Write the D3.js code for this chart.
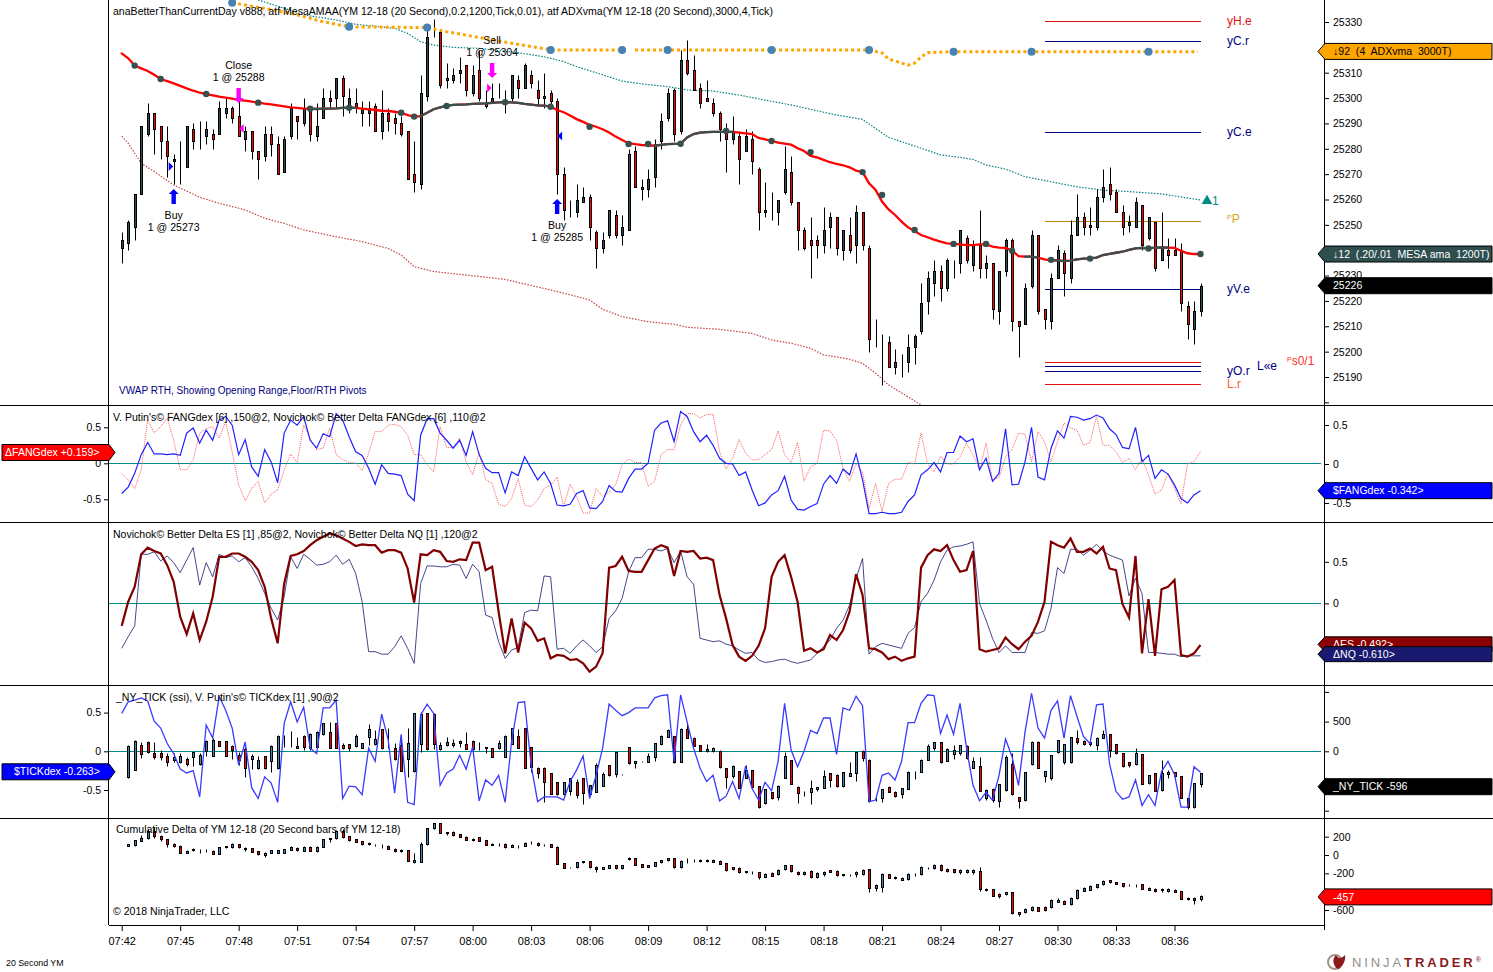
<!DOCTYPE html>
<html>
<head>
<meta charset="utf-8">
<title>20 Second YM</title>
<script src="https://cdn.jsdelivr.net/npm/d3@7"></script>
<style>
  html, body { margin: 0; background: #fff; }
  svg { display: block; font-family: "Liberation Sans", Arial, sans-serif; }
  text { fill: #000; }
  .axis text { font-size: 10.5px; }
  .axis line { stroke: #000; }
  .time text { font-size: 11px; }
</style>
</head>
<body>
<svg id="chart" width="1493" height="972"></svg>
<script>
// DATA
const timeLabels = ["07:42","07:45","07:48","07:51","07:54","07:57","08:00","08:03","08:06","08:09","08:12","08:15","08:18","08:21","08:24","08:27","08:30","08:33","08:36"];

// YM 12-18 20 second bars: high, low, open, close
const priceBars = [
[25247,25235,25241,25244],[25252,25240,25243,25251],[25262,25244,25249,25262],[25289,25262,25262,25289],[25298,25285,25286,25294],
[25294,25278,25294,25288],[25289,25276,25289,25283],[25289,25269,25283,25277],[25278,25266,25275,25276],[25283,25266,25274,25274],
[25289,25273,25273,25289],[25290,25280,25288,25283],[25291,25280,25286,25286],[25291,25282,25285,25288],[25288,25280,25286,25284],
[25299,25286,25286,25296],[25300,25292,25294,25296],[25297,25290,25296,25292],[25299,25285,25293,25285],[25289,25279,25284,25287],
[25287,25276,25287,25279],[25279,25268,25279,25276],[25289,25275,25277,25286],[25289,25277,25286,25282],[25285,25270,25282,25270],
[25285,25271,25271,25284],[25298,25284,25285,25296],[25293,25284,25293,25291],[25300,25289,25290,25296],[25296,25283,25296,25286],
[25298,25283,25285,25289],[25304,25292,25292,25300],[25303,25296,25300,25299],[25308,25296,25300,25308],[25309,25293,25308,25301],
[25304,25294,25297,25300],[25304,25294,25298,25296],[25299,25289,25294,25296],[25299,25289,25294,25296],[25298,25287,25297,25287],
[25303,25284,25287,25294],[25296,25287,25294,25291],[25294,25286,25292,25290],[25293,25285,25290,25286],[25287,25268,25287,25268],
[25283,25263,25270,25267],[25309,25264,25266,25302],[25329,25299,25301,25324],[25331,25324,25324,25324],[25327,25304,25326,25305],
[25314,25304,25307,25308],[25312,25306,25307,25309],[25316,25306,25310,25311],[25313,25301,25313,25303],[25313,25301,25302,25309],
[25319,25299,25311,25300],[25303,25296,25297,25298],[25306,25299,25299,25300],[25306,25300,25300,25300],[25303,25294,25299,25299],
[25309,25299,25300,25309],[25309,25300,25307,25304],[25314,25304,25304,25313],[25311,25304,25309,25306],[25307,25297,25303,25300],
[25310,25296,25300,25301],[25303,25296,25302,25299],[25300,25262,25299,25270],[25273,25252,25270,25256],[25260,25253,25255,25255],
[25266,25253,25255,25260],[25265,25259,25259,25261],[25262,25244,25261,25249],[25248,25233,25247,25241],[25247,25239,25241,25244],
[25256,25245,25246,25256],[25256,25245,25254,25246],[25254,25242,25246,25249],[25280,25248,25248,25278],[25281,25265,25279,25265],
[25268,25260,25264,25265],[25272,25261,25264,25268],[25284,25265,25269,25282],[25294,25280,25283,25291],[25304,25291,25292,25302],
[25304,25283,25303,25286],[25319,25286,25287,25315],[25323,25309,25315,25310],[25317,25303,25311,25303],[25306,25296,25304,25298],
[25307,25299,25300,25299],[25300,25293,25298,25294],[25295,25283,25294,25288],[25290,25271,25288,25284],[25293,25282,25284,25287],
[25287,25266,25285,25276],[25288,25279,25279,25285],[25287,25270,25284,25275],[25273,25248,25272,25255],[25267,25253,25255,25256],
[25263,25252,25256,25256],[25260,25250,25255,25260],[25281,25262,25263,25272],[25277,25258,25271,25259],[25259,25240,25259,25248],
[25249,25240,25248,25241],[25253,25229,25244,25242],[25246,25237,25244,25242],[25257,25239,25242,25248],[25255,25241,25249,25253],
[25253,25238,25253,25241],[25248,25236,25240,25248],[25253,25239,25246,25240],[25258,25235,25242,25255],[25255,25240,25255,25242],
[25242,25200,25241,25205],[25213,25202,25205,25205],[25207,25187,25205,25205],[25206,25194,25204,25194],[25201,25191,25194,25196],
[25199,25190,25196,25196],[25207,25192,25196,25202],[25207,25195,25202,25206],[25227,25207,25208,25219],[25232,25215,25220,25229],
[25236,25222,25227,25232],[25234,25220,25232,25225],[25237,25224,25225,25236],[25236,25229,25234,25234],[25248,25231,25235,25248],
[25246,25235,25245,25236],[25244,25232,25234,25242],[25256,25229,25242,25233],[25238,25229,25233,25235],[25235,25213,25235,25217],
[25232,25211,25216,25232],[25245,25230,25232,25244],[25245,25208,25244,25212],[25212,25198,25212,25210],[25227,25211,25211,25225],
[25248,25225,25226,25246],[25246,25215,25246,25216],[25217,25209,25217,25213],[25231,25209,25212,25229],[25242,25229,25229,25240],
[25240,25222,25239,25231],[25252,25227,25229,25246],[25262,25246,25246,25253],[25255,25246,25253,25249],[25257,25246,25250,25249],
[25264,25248,25249,25261],[25272,25259,25261,25265],[25273,25260,25266,25262],[25264,25255,25263,25255],[25258,25246,25255,25249],
[25254,25247,25250,25251],[25261,25249,25249,25259],[25258,25240,25258,25242],[25253,25244,25245,25253],[25251,25232,25251,25233],
[25255,25236,25236,25241],[25245,25233,25240,25238],[25245,25238,25240,25238],[25243,25216,25240,25219],[25220,25205,25218,25211],
[25220,25203,25209,25216],[25227,25214,25216,25226]
];

const mesaValues = [
25317.6,25315.7,25312.8,25311.7,25310.7,25309.2,25307.5,25306.7,25305.8,25304.8,
25303.8,25302.9,25302.1,25301.6,25301.1,25300.6,25300.2,25299.8,25299.2,25299.0,
25298.6,25298.2,25297.8,25297.5,25297.1,25296.7,25296.3,25296.1,25295.8,25295.8,
25295.7,25295.8,25295.8,25295.9,25296.1,25296.2,25296.1,25295.8,25295.6,25295.3,
25295.0,25294.9,25294.6,25294.2,25293.3,25292.7,25292.9,25294.2,25295.6,25296.3,
25296.9,25297.3,25297.4,25297.5,25297.7,25297.8,25297.9,25298.1,25298.3,25298.4,
25298.3,25298.1,25297.7,25297.4,25297.1,25297.0,25296.6,25295.3,25294.4,25293.1,
25291.7,25290.6,25289.4,25288.7,25287.7,25286.4,25284.8,25283.5,25282.2,25281.8,
25281.5,25281.4,25281.2,25281.5,25281.8,25281.9,25282.0,25284.5,25285.8,25286.4,
25286.6,25286.7,25286.7,25286.7,25286.7,25286.4,25286.1,25285.8,25284.3,25283.7,
25283.1,25282.4,25282.0,25281.6,25280.2,25279.1,25277.2,25276.6,25275.6,25274.7,
25274.0,25273.5,25272.7,25271.4,25270.8,25266.4,25263.8,25259.2,25256.1,25253.9,
25251.3,25249.0,25247.6,25246.0,25245.1,25244.2,25243.4,25242.7,25242.5,25242.3,
25242.0,25242.0,25242.3,25242.3,25241.4,25241.0,25240.9,25239.8,25237.7,25237.5,
25237.5,25237.1,25236.4,25236.0,25236.0,25235.7,25235.9,25236.4,25236.7,25236.8,
25237.1,25238.1,25238.6,25239.0,25239.4,25240.1,25240.7,25240.9,25240.7,25241.0,
25241.1,25241.0,25240.9,25239.8,25238.8,25238.5,25238.5
];
// bar ranges where the MESA line turns slate instead of red
const mesaDarkRuns = [[29,36],[46,66],[82,94],[139,141],[143,161]];
const mesaDotBars = [2,6,13,21,29,35,43,45,50,59,66,72,78,81,86,93,100,106,114,117,122,128,133,137,143,149,158,166];
const mesaDotValues = [25312.8,25307.5,25301.6,25298.2,25295.8,25296.2,25294.2,25292.7,25296.9,25298.4,25296.6,25288.7,25281.9,25281.9,25282.0,25287.0,25283.1,25278.7,25270.8,25261.8,25248.0,25242.5,25242.5,25239.8,25236.2,25236.7,25240.7,25238.5];

const adxBars = [17,26,31,35,47,50,58,66,77,null,79,115,117,118,120,121,122,123,124,128,165.6];
const adxValues = [25337.6,25333.5,25330.1,25328.1,25327.8,25326.2,25322.5,25319.0,25319.0,null,25319.0,25319.0,25317.8,25315.4,25313.8,25313.0,25313.8,25316.2,25317.9,25318.3,25318.3];
const adxDotBars = [17,35,47,66,77,84,100,115,128,140,158];
const adxDotValues = [25337.6,25328.1,25327.8,25319.0,25319.0,25319.0,25319.0,25319.0,25318.3,25318.3,25318.3];

const upperBandBars = [21,25,28,33,36,42,44,46,48,51,55,57,61,65,68,70,73,77,80,84,87,91,95,99,103,107,110,114,116,118,122,126,129,131,133,136,139,143,147,151,155,160,166];
const upperBandValues = [25338.7,25335.4,25332.8,25330.8,25329.1,25327.5,25325.5,25322.2,25320.9,25320,25319.6,25319,25317.9,25316.3,25314.4,25312.4,25310,25306.7,25305.6,25304.5,25303.2,25302.8,25301.2,25299.2,25297.3,25295,25293.3,25291.6,25288,25284.5,25281.1,25277.6,25276.6,25275.8,25273.6,25272,25269,25267,25265,25263.7,25263.1,25262.2,25259.8];
const lowerBandBars = [0,1,3,5,8,12,15,19,22,25,28,33,37,41,43,45,48,53,59,67,72,74,77,81,85,87,92,97,100,103,106,108,112,114,116,118,123];
const lowerBandValues = [25285,25282.2,25274.3,25271,25265.7,25260.9,25258.5,25255.9,25252.6,25250.6,25248,25245.3,25243.4,25240.7,25238.1,25233.5,25231.6,25230.2,25228.5,25223.7,25220.4,25216.7,25213.8,25211.8,25210.8,25209.6,25208.8,25207.2,25204.6,25203.3,25201.3,25198.7,25197,25195.4,25191.5,25186.9,25179];

// pivot levels
const levelValues = [25330.3,25322.4,25286.5,25251.4,25224.6,25195.8,25194.2,25192.3,25187.1];
const levelColors = ["#e01010","#000080","#000080","#b8860b","#000080","#e01010","#000080","#000080","#e01010"];

// executions
const tradeBars = [8,18,57,67];
const tradePrices = [25273,25288,25304,25285];
const tradeNames = ["Buy","Close","Sell","Buy"];
const tradeColors = ["#0000ff","#ff00ff","#ff00ff","#0000ff"];
const tradeArrowTips = [25264.1,25298.1,25307.9,25260.2];

const fangBlue = [
-.42,-.33,-.14,.12,.29,.13,.13,.12,.13,.11,
.42,.49,.28,.46,.32,.60,.65,.53,.12,.33,
-.05,-.18,.19,.02,-.27,.42,.60,.53,.65,.32,
.21,.41,.37,.69,.60,.37,.16,.11,-.07,-.29,
-.02,-.14,-.15,-.17,-.43,-.52,.39,.62,.62,.42,
.32,.21,.32,.11,.44,.12,-.07,-.13,-.13,-.41,
-.12,-.17,.09,-.07,-.23,-.12,-.28,-.58,-.59,-.57,
-.42,-.38,-.62,-.63,-.53,-.31,-.39,-.40,-.21,-.08,
-.08,0,.46,.56,.59,.30,.72,.65,.44,.30,
.39,.25,.07,0,-.01,-.17,-.12,-.37,-.59,-.55,
-.44,-.38,-.18,-.51,-.64,-.65,-.60,-.56,-.29,-.17,
-.28,-.08,-.16,.13,-.23,-.70,-.70,-.68,-.70,-.70,
-.68,-.53,-.44,-.16,-.09,.01,-.12,.15,.15,.38,
.30,.34,-.09,.07,-.25,-.14,.48,-.30,-.29,.02,
.50,-.19,-.23,.21,.45,.35,.65,.64,.60,.62,
.67,.63,.48,.40,.22,.20,.50,.02,.11,-.21,
-.09,-.15,-.30,-.49,-.55,-.44,-.38
];
const fangDelta = [
-.14,-.23,-.35,-.09,.60,.42,.51,.63,.32,-.09,
-.09,.05,.42,.48,.51,.35,.58,.16,-.30,-.52,
-.35,-.25,-.55,-.43,-.37,-.09,.13,.01,.53,.35,
.19,.21,.49,.12,.05,.01,0,-.10,.14,.44,
.44,.53,.54,.51,.39,.12,.12,-.02,-.12,.51,
.22,.22,.35,.02,-.16,.15,-.23,-.28,-.57,-.60,
-.49,-.21,-.58,-.60,-.51,-.35,-.30,-.19,-.60,-.29,
-.46,-.69,-.69,-.35,-.46,-.40,-.30,-.02,.06,.01,
.01,-.32,-.25,.12,.19,.19,.53,.69,.69,.63,
.68,.68,.16,-.08,.07,.33,.14,.05,.05,.12,
.19,.45,.12,.01,.29,-.25,-.05,0,.46,.45,
.32,-.07,-.25,-.01,-.12,-.63,-.28,-.67,-.28,-.22,
-.22,.01,-.01,.42,0,-.12,.10,-.01,-.01,.09,
.28,.12,-.09,.28,-.23,-.20,.09,.19,.42,.40,
.02,.44,.30,.02,.30,.56,.49,.46,.25,.29,
.65,.25,.25,.16,.01,.07,-.09,.07,-.16,-.43,
-.37,-.14,-.35,-.56,-.01,.02,.16
];

const deltaES = [
-.27,.02,.20,.59,.67,.63,.60,.46,.26,-.16,
-.37,-.12,-.44,-.22,.08,.56,.56,.60,.60,.56,
.50,.40,.20,-.18,-.48,.24,.57,.59,.63,.70,
.76,.80,.84,.82,.78,.74,.69,.71,.70,.70,
.61,.64,.64,.61,.42,.01,.59,.58,.64,.62,
.51,.50,.53,.52,.73,.73,.40,.44,-.10,-.60,
-.18,-.59,-.23,-.30,-.45,-.42,-.66,-.62,-.63,-.68,
-.67,-.72,-.82,-.76,-.60,.43,.45,.56,.39,.38,
.38,.52,.66,.70,.67,.33,.63,.62,.63,.54,
.55,.52,.10,-.18,-.50,-.64,-.69,-.63,-.51,-.30,
.32,.50,.58,.32,.02,-.57,-.54,-.59,-.55,-.38,
-.44,-.32,-.10,.35,.10,-.54,-.55,-.59,-.67,-.64,
-.69,-.66,-.64,.43,.58,.65,.63,.70,.52,.38,
.40,.63,-.55,-.58,-.56,-.54,-.41,-.49,-.55,-.46,
-.39,-.22,.02,.74,.70,.67,.78,.62,.62,.66,
.60,.68,.42,.40,-.01,-.17,.57,-.60,.05,-.63,
.17,.20,.28,-.62,-.64,-.60,-.50
];
const deltaNQ = [
-.54,-.40,-.27,.59,.59,.62,.51,.57,.49,.37,
.52,.67,.22,.49,.32,.59,.55,.57,.50,.55,
.44,.30,.12,-.06,-.20,.08,.56,.42,.59,.53,
.46,.47,.50,.58,.47,.53,.36,.02,-.58,-.58,
-.61,-.61,-.52,-.39,-.54,-.72,.24,.45,.45,.44,
.44,.47,.46,.30,.47,.38,-.14,-.17,-.46,-.66,
-.56,-.53,-.11,-.08,-.09,.33,.32,-.55,-.54,-.60,
-.51,-.44,-.51,-.59,-.52,-.18,-.09,.06,.38,.55,
.55,.65,.65,.63,.66,.49,.63,.32,.23,-.42,
-.44,-.46,-.45,-.49,-.51,-.56,-.60,-.59,-.68,-.71,
-.70,-.68,-.67,-.70,-.72,-.70,-.68,-.60,-.52,-.44,
-.30,-.20,-.02,.30,.54,-.61,-.52,-.48,-.50,-.52,
-.54,-.36,-.29,.02,.12,.28,.50,.64,.68,.69,
.71,.74,0,-.20,-.42,-.59,-.51,-.59,-.59,-.59,
-.35,-.36,-.33,-.06,.43,.36,.65,.65,.58,.64,
.71,.63,.58,.55,.52,.09,.30,.12,-.59,-.59,
-.60,-.61,-.61,-.64,-.63,-.63,-.63
];

const tickDex = [
.49,.64,.66,.69,.65,.39,.30,.10,-.03,-.23,
-.28,-.25,-.59,.34,.17,.71,.53,.30,-.18,.12,
-.47,-.61,-.33,-.41,-.66,.36,.64,.38,.57,.04,
-.03,.56,.56,.66,-.61,-.45,-.46,-.56,.04,-.13,
.48,.15,-.54,.22,-.66,-.69,.47,.61,.49,-.44,
-.28,-.23,-.05,-.23,.06,-.64,-.37,-.44,-.31,-.66,
.13,.63,.64,-.18,-.65,-.59,-.59,-.59,-.63,-.39,
-.24,-.06,-.61,-.31,.04,.61,.53,.46,.50,.56,
.56,.56,.69,.72,.73,-.13,.73,.38,.04,-.22,
-.39,-.31,-.64,-.58,-.39,-.61,-.19,-.48,-.63,-.40,
-.51,-.13,.62,.02,-.20,0,.27,.23,.43,.43,
-.04,.56,.53,.71,.59,-.65,-.63,-.31,-.28,-.37,
-.13,.37,.37,.62,.73,.72,.23,.47,.22,.62,
.04,-.44,-.64,-.53,-.63,-.31,.16,-.07,-.44,.25,
.75,.30,.17,.53,.65,.17,.72,.45,.19,.10,
.60,.61,-.16,-.52,-.62,-.59,-.37,-.70,-.56,-.70,
-.26,-.13,-.30,-.72,-.72,-.20,-.27
];

// _NY_TICK bars from bar 1 on: high, low, open, close
const tickBars = [
[107,-444,-438,96],[185,-315,-315,174],[163,-107,107,-39],[174,-34,163,-6],[152,-129,-34,-90],[22,-146,-22,-101],[-34,-247,-79,-185],[-34,-174,-146,-90],[-34,-191,-174,-79],[-90,-242,-135,-219],
[-6,-247,-90,-17],[-34,-230,-219,-62],[191,-73,6,174],[219,-73,-73,191],[174,90,174,96],[174,-73,174,-73],[107,-129,96,22],[-6,-230,-62,-146],[79,-427,34,-287],[-45,-303,-129,-79],
[-79,-298,-287,-146],[-73,-298,-79,-287],[107,-343,-163,96],[275,-298,-287,264],[275,79,96,96],[343,79,264,264],[247,51,96,51],[275,22,264,79],[303,22,51,292],[343,79,79,332],
[483,275,287,472],[489,51,332,51],[483,51,472,51],[135,39,107,51],[118,11,118,51],[287,79,96,264],[135,51,62,135],[455,107,247,377],[360,107,118,202],[377,39,371,51],
[388,51,202,202],[135,-146,51,-129],[174,-332,107,-332],[388,-427,-129,135],[641,-354,-332,641],[658,-6,124,624],[652,22,641,39],[641,39,624,118],[163,22,34,107],[247,96,107,152],
[208,79,107,135],[191,79,135,174],[332,39,118,39],[191,-79,180,34],[152,22,51,51],[79,-34,51,67],[62,-90,51,-90],[191,39,51,135],[275,-90,-90,264],[399,118,129,388],
[377,51,264,62],[388,-275,388,-275],[79,-354,67,-270],[-270,-455,-275,-371],[-270,-849,-275,-523],[-371,-725,-371,-725],[-511,-736,-523,-725],[-511,-736,-725,-523],[-444,-736,-663,-455],[-466,-781,-523,-736],
[-455,-894,-455,-708],[-568,-747,-725,-568],[-202,-691,-691,-230],[-354,-584,-579,-388],[-230,-410,-236,-399],[-17,-427,-388,-17],[-388,-399,-388,-388],[79,-219,67,-191],[-163,-275,-197,-163],[-163,-185,-174,-174],
[-34,-185,-174,-73],[135,-157,-90,135],[275,107,118,264],[371,236,247,360],[264,-202,258,-185],[388,-174,-174,377],[472,219,377,230],[247,90,219,96],[107,11,107,11],[118,-6,11,39],
[79,-6,11,62],[22,-275,11,-259],[-275,-613,-275,-433],[-230,-444,-421,-242],[-332,-624,-332,-613],[-230,-455,-444,-320],[-315,-613,-320,-596],[-584,-961,-584,-933],[-635,-888,-877,-635],[-680,-804,-691,-781],
[-568,-821,-764,-579],[-6,-444,-444,-73],[-146,-545,-152,-545],[-590,-866,-596,-697],[-669,-747,-680,-680],[-483,-894,-680,-613],[-596,-669,-641,-607],[-315,-624,-624,-416],[-371,-607,-371,-483],[-388,-596,-399,-584],
[-354,-596,-584,-354],[-174,-410,-410,-365],[-6,-500,-371,-11],[22,-163,11,-118],[-129,-860,-140,-832],[-764,-837,-821,-821],[-635,-860,-792,-635],[-584,-691,-601,-680],[-669,-764,-680,-759],[-613,-781,-725,-624],
[-332,-635,-635,-354],[-332,-466,-343,-343],[-129,-354,-343,-140],[118,-140,-140,96],[163,22,51,152],[163,-202,152,-185],[51,-163,-163,39],[107,-129,-51,22],[107,-62,-34,101],[107,-129,96,-107],
[-90,-275,-275,-163],[-90,-669,-247,-669],[-635,-821,-792,-646],[-624,-860,-635,-821],[-545,-933,-832,-545],[-62,-669,-658,-90],[-34,-736,-214,-725],[-764,-950,-776,-837],[-354,-837,-826,-354],[174,-230,-219,163],
[174,-287,163,-287],[-332,-511,-410,-332],[-62,-483,-444,-62],[191,-34,-17,191],[118,-219,-185,118],[247,-202,-174,242],[360,118,230,152],[191,107,174,129],[163,96,152,118],[247,22,107,230],
[360,219,230,287],[287,-90,287,22],[118,-51,118,-34],[-34,-264,-34,-253],[-185,-259,-185,-230],[62,-230,-219,-22],[-51,-556,-51,-551],[-399,-556,-540,-399],[-371,-669,-371,-663],[-146,-669,-658,-371],
[-315,-455,-388,-354],[-354,-433,-354,-421],[-410,-792,-410,-781],[-792,-972,-792,-933],[-540,-961,-933,-540],[-371,-596,-556,-371]
];

// cumulative delta bars from bar 1 on: high, low, open, close
const cumDeltaBars = [
[116,95,102,116],[164,95,109,160],[218,156,156,182],[284,175,182,265],[309,182,265,211],[218,156,211,171],[175,91,171,124],[127,84,124,98],[109,25,102,25],[55,25,25,47],
[73,47,55,65],[65,25,62,62],[69,36,62,62],[55,15,47,15],[87,15,15,84],[102,73,84,95],[127,73,87,116],[120,80,116,84],[84,47,80,65],[80,36,73,36],
[47,0,40,7],[36,-18,0,25],[55,18,25,51],[55,18,25,51],[65,25,25,62],[95,51,55,84],[84,47,80,51],[98,44,47,91],[95,47,91,47],[98,36,47,91],
[175,87,91,171],[189,145,171,182],[273,175,182,262],[284,189,265,196],[211,156,204,164],[175,138,171,145],[156,109,149,120],[138,109,116,131],[124,102,113,113],[116,73,102,102],
[109,65,102,69],[73,36,69,44],[62,36,44,51],[55,-62,51,-62],[18,-84,-73,-58],[145,-80,-73,116],[298,109,116,291],[349,284,291,345],[345,236,345,236],[255,218,251,236],
[262,211,251,222],[229,196,225,200],[207,164,200,167],[189,153,164,178],[196,153,193,156],[164,109,160,113],[127,105,113,124],[127,102,120,120],[127,80,120,91],[116,87,91,113],
[109,76,102,102],[145,98,102,135],[153,124,135,135],[142,98,135,113],[124,95,113,113],[120,87,116,91],[95,-98,91,-95],[-84,-142,-91,-138],[-131,-142,-135,-135],[-73,-138,-131,-80],
[-62,-87,-80,-65],[-62,-138,-69,-127],[-120,-182,-127,-153],[-127,-153,-153,-131],[-109,-145,-138,-113],[-109,-153,-113,-142],[-109,-153,-138,-113],[-25,-51,-47,-33],[-33,-109,-36,-105],[-98,-131,-102,-127],
[-109,-131,-127,-113],[-73,-120,-116,-80],[-51,-84,-80,-58],[-29,-65,-58,-36],[-29,-138,-36,-127],[-58,-138,-127,-62],[-36,-91,-62,-62],[-44,-73,-58,-58],[-47,-73,-55,-65],[-44,-73,-55,-65],
[-47,-80,-76,-58],[-58,-102,-65,-95],[-84,-171,-91,-160],[-131,-167,-135,-156],[-131,-193,-138,-185],[-171,-193,-178,-189],[-175,-204,-193,-193],[-182,-262,-189,-244],[-196,-244,-236,-211],[-189,-233,-196,-225],
[-153,-218,-207,-160],[-109,-164,-156,-113],[-109,-185,-113,-178],[-175,-218,-185,-207],[-175,-218,-204,-182],[-164,-255,-171,-236],[-189,-247,-236,-196],[-175,-225,-211,-182],[-164,-189,-167,-182],[-167,-225,-175,-222],
[-207,-225,-222,-211],[-204,-229,-215,-215],[-171,-236,-211,-182],[-153,-218,-204,-160],[-153,-400,-156,-356],[-320,-389,-356,-331],[-200,-400,-345,-211],[-204,-255,-211,-247],[-233,-262,-240,-255],[-240,-276,-269,-251],
[-200,-273,-265,-207],[-200,-225,-211,-211],[-120,-218,-211,-127],[-127,-156,-135,-135],[-98,-153,-138,-109],[-102,-175,-109,-167],[-145,-189,-153,-171],[-153,-200,-156,-185],[-156,-204,-185,-164],[-156,-200,-185,-167],
[-153,-207,-189,-164],[-131,-389,-175,-375],[-360,-393,-382,-367],[-371,-447,-375,-444],[-418,-465,-425,-444],[-400,-436,-429,-407],[-404,-644,-407,-636],[-618,-662,-625,-640],[-582,-636,-625,-589],[-556,-607,-596,-564],
[-564,-614,-571,-607],[-556,-611,-564,-600],[-484,-574,-567,-495],[-473,-509,-509,-491],[-491,-538,-498,-531],[-458,-545,-531,-465],[-371,-480,-473,-385],[-353,-393,-389,-364],[-331,-385,-378,-338],[-313,-356,-345,-320],
[-273,-327,-320,-280],[-273,-309,-276,-298],[-291,-320,-295,-313],[-305,-349,-309,-335],[-320,-338,-331,-331],[-313,-349,-331,-324],[-313,-371,-316,-367],[-353,-385,-378,-360],[-364,-400,-375,-389],[-356,-400,-385,-367],
[-364,-400,-389,-371],[-371,-407,-382,-400],[-393,-480,-396,-476],[-455,-495,-480,-465],[-455,-535,-491,-473],[-436,-498,-480,-451]
];

// SCALES
const W = 1493, left = 109, right = 1325;
const panels = { price: [0, 405], fang: [405, 522], delta: [522, 685], tick: [685, 817.5], cum: [817.5, 925] };

const x = d3.scaleLinear().domain([0, 166]).range([121.7, 1200.5]);
const yPrice = d3.scaleLinear().domain([25330, 25190]).range([22, 377]);
const yFang = d3.scaleLinear().domain([0.5, -0.5]).range([427.3, 499.3]);
const yFangRight = d3.scaleLinear().domain([0.5, -0.5]).range([425, 503]);
const yDelta = d3.scaleLinear().domain([0.5, -0.5]).range([561.8, 645]);
const yDex = d3.scaleLinear().domain([0.5, -0.5]).range([712.6, 790]);
const yTick = d3.scaleLinear().domain([500, -500]).range([721.6, 781]);
const yCum = d3.scaleLinear().domain([200, -600]).range([836.7, 910]);

const svg = d3.select("#chart");
const defs = svg.append("defs");
Object.entries(panels).forEach(([name, [y0, y1]]) => {
  defs.append("clipPath").attr("id", "clip-" + name)
    .append("rect").attr("x", left).attr("y", y0).attr("width", right - left).attr("height", y1 - y0);
});
const layer = (name) => svg.append("g").attr("clip-path", `url(#clip-${name})`);
const crisp = (v) => Math.round(v) + 0.5;

// HELPERS
function drawSeries(g, bars, values, yScale, opts) {
  const rows = bars.map((b, k) => [b, values[k]]);
  const line = d3.line().defined((d) => d[0] !== null).x((d) => x(d[0])).y((d) => yScale(d[1]));
  g.append("path").attr("d", line(rows)).attr("fill", "none")
    .attr("stroke", opts.color).attr("stroke-width", opts.width || 1)
    .attr("stroke-dasharray", opts.dash || null)
    .attr("stroke-linecap", opts.cap || "butt")
    .attr("stroke-opacity", opts.opacity || 1);
}

function drawCandles(g, rows, start, yScale, upColor, downColor) {
  const bars = g.selectAll("g.bar").data(rows).join("g").attr("class", "bar")
    .attr("transform", (d, k) => `translate(${crisp(x(k + start))},0)`);
  bars.append("line").attr("y1", (d) => crisp(yScale(d[0]))).attr("y2", (d) => crisp(yScale(d[1])))
    .attr("stroke", "#000");
  bars.append("rect").attr("x", -1)
    .attr("width", 2)
    .attr("y", (d) => crisp(yScale(Math.max(d[2], d[3]))))
    .attr("height", (d) => crisp(yScale(Math.min(d[2], d[3]))) - crisp(yScale(Math.max(d[2], d[3]))))
    .attr("fill", (d) => (d[3] >= d[2] ? upColor : downColor))
    .attr("stroke", "#000");
}

function zeroLine(y) {
  svg.append("line").attr("x1", left).attr("x2", 1321).attr("y1", y).attr("y2", y)
    .attr("stroke", "#008b8b");
}

function drawAxis(axis, xPos) {
  const g = svg.append("g").attr("class", "axis").attr("transform", `translate(${xPos},0)`).call(axis);
  g.select(".domain").remove();
  return g;
}

function label(text, px, py, size, color, anchor) {
  return svg.append("text").attr("x", px).attr("y", py).attr("dy", "0.35em")
    .attr("font-size", size).attr("text-anchor", anchor || "start")
    .style("fill", color || "#000").text(text);
}

// the pivot captions with a small raised P in front
function pivotLabel(rest, px, py, color) {
  const t = svg.append("text").attr("x", px).attr("y", py + 4).attr("font-size", 12).style("fill", color);
  t.append("tspan").attr("font-size", 7).attr("dy", -3).style("fill", color).text("P");
  t.append("tspan").attr("dy", 3).style("fill", color).text(rest);
}

// flag labels: tip points at the axis, box runs to the chart edge
function flagRight(cy, h, fill, textColor, text, stroke) {
  const t = cy - h / 2, b = cy + h / 2;
  svg.append("path").attr("d", `M1318,${cy}L1325,${t}H1492V${b}H1325Z`)
    .attr("fill", fill).attr("stroke", stroke || "#000");
  label(text, 1333, cy, 10.55, textColor).attr("xml:space", "preserve");
}
function flagLeft(cy, h, fill, text, px) {
  const t = cy - h / 2, b = cy + h / 2;
  svg.append("path").attr("d", `M2,${t}H109L115,${cy}L109,${b}H2Z`)
    .attr("fill", fill).attr("stroke", "#000");
  label(text, px, cy, 10.55, "#fff");
}

// PRICE PANEL
const priceLayer = layer("price");
levelValues.forEach((v, k) => {
  const y = crisp(yPrice(v));
  priceLayer.append("line").attr("x1", 1045).attr("x2", 1201).attr("y1", y).attr("y2", y)
    .attr("stroke", levelColors[k]);
});
drawSeries(priceLayer, upperBandBars, upperBandValues, yPrice, { color: "#007f7f", dash: "1.5,1.5", width: 1.2 });
drawSeries(priceLayer, lowerBandBars, lowerBandValues, yPrice, { color: "#c84040", dash: "1.5,1.5", width: 1.2 });
drawCandles(priceLayer.append("g"), priceBars, 0, yPrice, "#2f4f4f", "#ff0000");

const allBars = d3.range(mesaValues.length);
drawSeries(priceLayer, allBars, mesaValues, yPrice, { color: "#ff0000", width: 2.3, cap: "round" });
mesaDarkRuns.forEach(([a, b]) => {
  const run = d3.range(a, b + 1);
  drawSeries(priceLayer, run, run.map((i) => mesaValues[i]), yPrice, { color: "#36504f", width: 2.3, cap: "round" });
});
priceLayer.selectAll("circle.mesa").data(mesaDotBars).join("circle").attr("class", "mesa")
  .attr("cx", (d) => x(d)).attr("cy", (d, k) => yPrice(mesaDotValues[k])).attr("r", 3.2).attr("fill", "#36504f");

drawSeries(priceLayer, adxBars, adxValues, yPrice, { color: "#ffa500", width: 3, dash: "3,3" });
priceLayer.selectAll("circle.adx").data(adxDotBars).join("circle").attr("class", "adx")
  .attr("cx", (d) => x(d)).attr("cy", (d, k) => yPrice(adxDotValues[k])).attr("r", 4).attr("fill", "#4682b4");

// trade arrows, fill markers and captions
tradeBars.forEach((bar, k) => {
  const px = x(bar), tip = yPrice(tradeArrowTips[k]), isUp = tradeNames[k] === "Buy";
  const dir = isUp ? 1 : -1;
  const arrow = d3.path();
  arrow.moveTo(px, tip);
  arrow.lineTo(px + 5, tip + dir * 5);
  arrow.lineTo(px + 2.2, tip + dir * 5);
  arrow.lineTo(px + 2.2, tip + dir * 15);
  arrow.lineTo(px - 2.2, tip + dir * 15);
  arrow.lineTo(px - 2.2, tip + dir * 5);
  arrow.lineTo(px - 5, tip + dir * 5);
  arrow.closePath();
  priceLayer.append("path").attr("d", arrow.toString()).attr("fill", tradeColors[k]);

  // fill marker: entries sit left of the bar pointing right, exits right of it pointing left
  const my = yPrice(tradePrices[k]);
  const side = k % 2 === 0 ? -1 : 1;
  const marker = d3.path();
  marker.moveTo(px + side * 0.5, my);
  marker.lineTo(px + side * 5, my - 4.5);
  marker.lineTo(px + side * 5, my + 4.5);
  marker.closePath();
  priceLayer.append("path").attr("d", marker.toString()).attr("fill", tradeColors[k]);

  const textTop = isUp ? tip + 26 : tip - 38;
  label(tradeNames[k], px, textTop, 10.55, "#000", "middle");
  label(`1 @ ${tradePrices[k]}`, px, textTop + 12, 10.55, "#000", "middle");
});

// FANGDEX PANEL
zeroLine(463.5);
const fangLayer = layer("fang");
drawSeries(fangLayer, allBars, fangDelta, yFang, { color: "#ff5a5a", dash: "1,1" });
drawSeries(fangLayer, allBars, fangBlue, yFang, { color: "#2020ff", width: 1.2 });

// NOVICHOK PANEL
zeroLine(603.5);
const deltaLayer = layer("delta");
drawSeries(deltaLayer, allBars, deltaNQ, yDelta, { color: "#191970", width: 1, opacity: 0.8 });
drawSeries(deltaLayer, allBars, deltaES, yDelta, { color: "#800000", width: 2.2 });

// TICK PANEL
zeroLine(751.5);
const tickLayer = layer("tick");
drawCandles(tickLayer.append("g"), tickBars, 1, yTick, "#4682b4", "#ff0000");
drawSeries(tickLayer, allBars, tickDex, yDex, { color: "#3a3aff", width: 1.3 });

// CUMULATIVE DELTA PANEL
const cumLayer = layer("cum");
drawCandles(cumLayer.append("g"), cumDeltaBars, 1, yCum, "#4682b4", "#ff0000");

// FRAME
[405, 522, 685, 817.5].forEach((y) => {
  const yy = Math.round(y) + 0.5;
  svg.append("line").attr("x1", 0).attr("x2", W).attr("y1", yy).attr("y2", yy).attr("stroke", "#000");
});
svg.append("line").attr("x1", left).attr("x2", right).attr("y1", 925.5).attr("y2", 925.5).attr("stroke", "#000");
svg.append("line").attr("x1", left - 0.5).attr("x2", left - 0.5).attr("y1", 0).attr("y2", 925).attr("stroke", "#000");
svg.append("line").attr("x1", right - 0.5).attr("x2", right - 0.5).attr("y1", 0).attr("y2", 930).attr("stroke", "#000");

// AXES
const hiddenPrices = [25180, 25240, 25320]; // these sit under the flags or off the labelled range
drawAxis(d3.axisRight(yPrice).tickValues(d3.range(25180, 25331, 10)).tickSize(4).tickPadding(4)
  .tickFormat((d) => (hiddenPrices.includes(d) ? "" : d)), right);
drawAxis(d3.axisRight(yFangRight).tickValues([0.5, 0, -0.5]).tickSize(4).tickPadding(4).tickFormat((d) => d), right);
drawAxis(d3.axisRight(yDelta).tickValues([0.5, 0, -0.5]).tickSize(4).tickPadding(4).tickFormat((d) => (d < 0 ? "" : d)), right);
drawAxis(d3.axisRight(yTick).tickValues([1000, 500, 0, -500, -1000]).tickSize(4).tickPadding(4)
  .tickFormat((d) => (d === 500 || d === 0 ? d : "")), right);
drawAxis(d3.axisRight(yCum).tickValues([200, 0, -200, -400, -600]).tickSize(4).tickPadding(4).tickFormat((d) => (d === -400 ? "" : d)), right);
drawAxis(d3.axisLeft(yFang).tickValues([0.5, 0, -0.5]).tickSize(5).tickPadding(3).tickFormat((d) => d), left);
drawAxis(d3.axisLeft(yDex).tickValues([0.5, 0, -0.5]).tickSize(5).tickPadding(3).tickFormat((d) => d), left);

const timeAxis = d3.axisBottom(x).tickValues(timeLabels.map((d, k) => k * 9)).tickSize(6).tickPadding(6)
  .tickFormat((d) => timeLabels[d / 9]);
const timeG = svg.append("g").attr("class", "axis time").attr("transform", "translate(0,925)").call(timeAxis);
timeG.select(".domain").remove();

// FLAGS
flagRight(yPrice(25318.4), 16, "#ffa500", "#000", "\u219392  (4  ADXvma  3000T)");
flagRight(yPrice(25238.5), 16, "#2f4f4f", "#fff", "\u219312  (.20/.01  MESA ama  1200T)");
flagRight(yPrice(25226), 16, "#000", "#fff", "25226");
flagRight(yFangRight(-0.342), 16, "#0000ff", "#fff", "$FANGdex -0.342>");
flagRight(yDelta(-0.492), 15, "#8b0000", "#fff", "\u0394ES -0.492>");
flagRight(yDelta(-0.61), 15, "#191970", "#fff", "\u0394NQ -0.610>");
flagRight(yTick(-596), 16, "#000", "#fff", "_NY_TICK -596");
flagRight(yCum(-457), 16, "#ff0000", "#fff", "-457");
flagLeft(452.5, 16, "#ff0000", "\u0394FANGdex +0.159>", 5);
flagLeft(771.8, 16, "#0000ff", "$TICKdex -0.263>", 14);

// LEVEL CAPTIONS
label("yH.e", 1227, 21, 12, "#e01010");
label("yC.r", 1227, 41, 12, "#000080");
label("yC.e", 1227, 132, 12, "#000080");
pivotLabel("P", 1227, 219, "#daa520");
label("yV.e", 1227, 289, 12, "#000080");
label("yO.r", 1227, 371, 12, "#000080");
label("L\u00ABe", 1257, 366, 12, "#000080");
pivotLabel("s0/1", 1287, 361, "#ff3030");
label("L.r", 1227, 384, 12, "#ff6030");

// band end marker
svg.append("path").attr("d", d3.symbol(d3.symbolTriangle, 50)()).attr("fill", "#008b8b")
  .attr("transform", `translate(${x(167)},${yPrice(25259.8) + 1})`);
label("1", 1212, 201, 12, "#008b8b");

// TITLES
label("anaBetterThanCurrentDay v888, atf MesaAMAA(YM 12-18 (20 Second),0.2,1200,Tick,0.01), atf ADXvma(YM 12-18 (20 Second),3000,4,Tick)", 113, 11, 10.55);
label("VWAP RTH, Showing Opening Range,Floor/RTH Pivots", 119, 390, 10, "#000080");
label("V. Putin's\u00A9 FANGdex [6] ,150@2, Novichok\u00A9 Better Delta FANGdex [6] ,110@2", 113, 417, 10.55);
label("Novichok\u00A9 Better Delta ES [1] ,85@2, Novichok\u00A9 Better Delta NQ [1] ,120@2", 113, 534, 10.55);
label("_NY_TICK (ssi), V. Putin's\u00A9 TICKdex [1] ,90@2", 116, 697, 10.55);
label("Cumulative Delta of YM 12-18 (20 Second bars of YM 12-18)", 116, 829, 10.55);
label("\u00A9 2018 NinjaTrader, LLC", 113, 911, 10.55);
label("20 Second YM", 6, 963, 8.8);

// LOGO
const logo = svg.append("g");
logo.append("ellipse").attr("cx", 1335).attr("cy", 962).attr("rx", 7).attr("ry", 7)
  .attr("fill", "none").attr("stroke", "#a39486").attr("stroke-width", 2);
logo.append("path").attr("d", "M1336,968C1332,962 1333,958 1336,955C1338,958 1340,960 1345,955C1346,961 1343,965 1339,969Z")
  .attr("fill", "#8b1a1a");
const logoText = logo.append("text").attr("x", 1352).attr("y", 967).attr("font-size", 13).attr("letter-spacing", 2.9);
logoText.append("tspan").style("fill", "#8f8f8f").text("NINJA");
logoText.append("tspan").style("fill", "#8b1a1a").attr("font-weight", 700).text("TRADER");
logoText.append("tspan").style("fill", "#8b1a1a").attr("font-size", 7).attr("dy", -5).text("\u00AE");
</script>
</body>
</html>
